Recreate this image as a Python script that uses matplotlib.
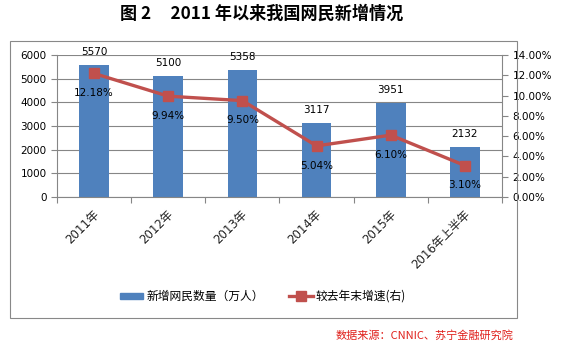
import matplotlib.pyplot as plt
from matplotlib.patches import Rectangle
import numpy as np

plt.rcParams['font.family'] = ['DejaVu Sans', 'Noto Sans CJK SC']

years = ['2011年', '2012年', '2013年', '2014年', '2015年', '2016年上半年']
new_users = [5570, 5100, 5358, 3117, 3951, 2132]
growth = [12.18, 9.94, 9.50, 5.04, 6.10, 3.10]

blue = '#4F81BD'
red = '#C0504D'
cjk = ['Noto Sans CJK SC', 'DejaVu Sans']

fig = plt.figure(figsize=(5.7, 3.42), dpi=100)
fig.patches.append(Rectangle((10/570, 1 - 318/342), 507/570, 277/342,
                             transform=fig.transFigure, fill=False,
                             ec='#888888', lw=0.8))
fig.text(262/570, 1 - 14/342, '图 2     2011 年以来我国网民新增情况',
         ha='center', va='center', fontsize=12.3, fontweight='bold', family=cjk)

ax = fig.add_axes([57/570, 1 - 197/342, 445/570, 142/342])
x = np.arange(len(years))
ax.bar(x, new_users, width=0.4, color=blue, zorder=2)
ax.set_xlim(-0.5, len(years) - 0.5)
ax.set_ylim(0, 6000)
ax.set_yticks(range(0, 6001, 1000))
ax.grid(axis='y', color='#868686', lw=0.8, zorder=0)
for s in ['top', 'right']:
    ax.spines[s].set_visible(False)
ax.spines['left'].set_color('#868686')
ax.spines['bottom'].set_color('#868686')
ax.set_xticks(np.arange(len(years) + 1) - 0.5)
ax.set_xticklabels([])
ax.tick_params(axis='x', length=4, color='#868686')
ax.tick_params(axis='y', length=4, color='#868686', labelsize=7.5)
for xi, lab in zip(x, years):
    ax.text(xi - 0.02, -450, lab, rotation=45, ha='right', va='top',
            fontsize=8.5, rotation_mode='anchor', color='#222222')
for xi, v in zip(x, new_users):
    ax.text(xi, v + 550, str(v), ha='center', va='center', fontsize=7.5)

ax2 = ax.twinx()
ax2.plot(x, growth, color=red, lw=2.4, marker='s', ms=6.5, zorder=3)
ax2.set_ylim(0, 14)
ax2.set_yticks(range(0, 15, 2))
ax2.set_yticklabels([f'{v:.2f}%' for v in range(0, 15, 2)])
ax2.tick_params(axis='y', length=4, color='#868686', labelsize=7.5)
for s in ['top', 'left', 'bottom']:
    ax2.spines[s].set_visible(False)
ax2.spines['right'].set_color('#868686')
for xi, g in zip(x, growth):
    ax2.text(xi, g - 1.95, f'{g:.2f}%', ha='center', va='center', fontsize=7.5)

# legend
ly = 1 - 296/342
fig.patches.append(Rectangle((120/570, ly - 3/342), 23/570, 6/342,
                             transform=fig.transFigure, color=blue))
fig.text(147/570, ly, '新增网民数量（万人）', ha='left', va='center',
         fontsize=8.5, family=cjk)
fig.lines.append(plt.Line2D([289/570, 301/570, 313/570], [ly] * 3,
                            transform=fig.transFigure, color=red, lw=2.4,
                            marker='s', ms=6.5, markevery=[1]))
fig.text(315/570, ly, '较去年末增速(右)', ha='left', va='center',
         fontsize=8.5, family=cjk)

fig.text(513/570, 1 - 335/342, '数据来源：CNNIC、苏宁金融研究院', ha='right',
         va='center', fontsize=8, color='#E0201B', style='italic', family=cjk)

plt.savefig('out.png', dpi=100)
